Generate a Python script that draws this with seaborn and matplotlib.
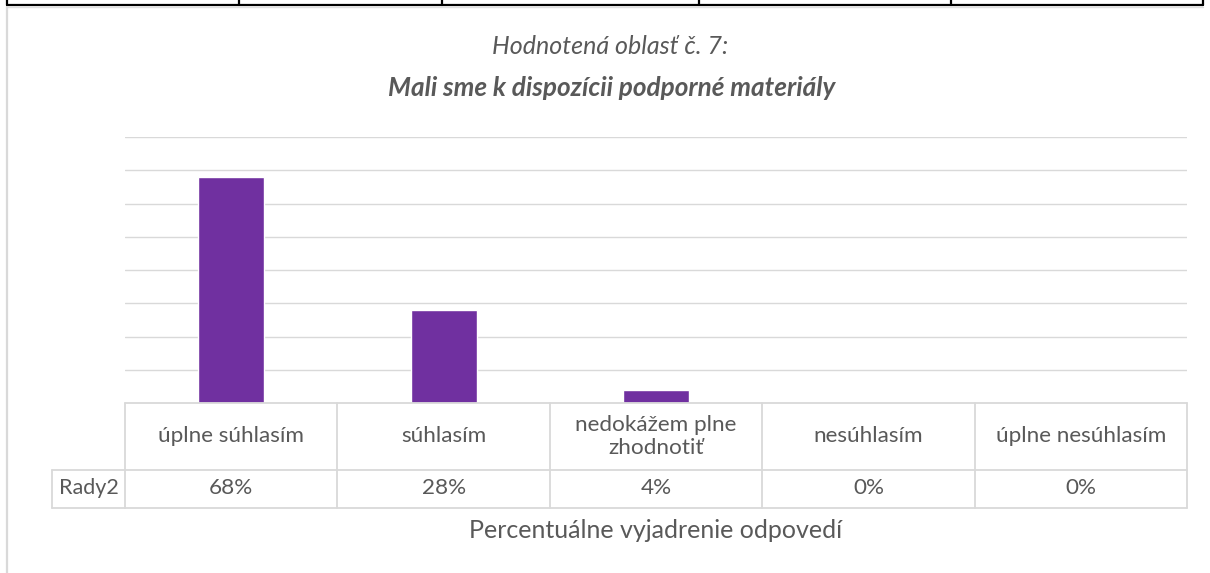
import matplotlib
matplotlib.use("Agg")
import matplotlib.pyplot as plt
import matplotlib.transforms as mtrans
from matplotlib.lines import Line2D
import seaborn as sns
import pandas as pd

# ---- data ----
categories = ["úplne súhlasím", "súhlasím", "nedokážem plne\nzhodnotiť", "nesúhlasím", "úplne nesúhlasím"]
values = [68, 28, 4, 0, 0]
series_name = "Rady2"
value_labels = ["68%", "28%", "4%", "0%", "0%"]
title_line1 = "Hodnotená oblasť č. 7:"
title_line2 = "Mali sme k dispozícii podporné materiály"
x_title = "Percentuálne vyjadrenie odpovedí"

W, H = 1210, 573
sns.set_style("white")
plt.rcParams['font.family'] = ['Lato', 'DejaVu Sans']
fig = plt.figure(figsize=(W / 100, H / 100), dpi=100)

TXT = "#595959"
GRID = "#d9d9d9"


def fx(px):
    return px / W


def fy(py):
    return 1 - py / H


plot_l, plot_r, plot_t, plot_b = 125, 1187, 137, 403
ax = fig.add_axes([fx(plot_l), fy(plot_b), (plot_r - plot_l) / W, (plot_b - plot_t) / H])
df = pd.DataFrame({"cat": categories, "val": values})
sns.barplot(data=df, x="cat", y="val", color="#7030A0", width=0.31, saturation=1, ax=ax)
ax.set_ylim(0, 80)
ax.set_xlim(-0.5, len(categories) - 0.5)
ax.set_yticks(range(10, 81, 10))
ax.yaxis.grid(True, color=GRID, lw=1.0)
ax.xaxis.grid(False)
ax.set_axisbelow(True)
ax.tick_params(left=False, bottom=False, labelleft=False, labelbottom=False)
for s in ax.spines.values():
    s.set_visible(False)
ax.set_xlabel("")
ax.set_ylabel("")

# ---- data table below the axis ----
bt = mtrans.blended_transform_factory(ax.transData, fig.transFigure)
row_top, row_mid, row_bot = 403, 469.5, 507.5
n = len(categories)
lw_t = 1.3
for ry in (row_top, row_mid, row_bot):
    ax.add_line(Line2D([-0.5, n - 0.5], [fy(ry)] * 2, transform=bt, color=GRID, lw=lw_t, clip_on=False))
for i in range(n + 1):
    ax.add_line(Line2D([i - 0.5, i - 0.5], [fy(row_top), fy(row_bot)], transform=bt,
                       color=GRID, lw=lw_t, clip_on=False))
# series-name cell
fig.add_artist(Line2D([fx(52), fx(plot_l)], [fy(row_mid)] * 2, color=GRID, lw=lw_t))
fig.add_artist(Line2D([fx(52), fx(plot_l)], [fy(row_bot)] * 2, color=GRID, lw=lw_t))
fig.add_artist(Line2D([fx(52), fx(52)], [fy(row_mid), fy(row_bot)], color=GRID, lw=lw_t))

fs_tab = 16.2
for i, (c, v) in enumerate(zip(categories, value_labels)):
    ax.text(i, fy((row_top + row_mid) / 2), c, transform=bt, ha="center", va="center",
            fontsize=fs_tab, color=TXT, linespacing=1.2)
    ax.text(i, fy((row_mid + row_bot) / 2), v, transform=bt, ha="center", va="center",
            fontsize=fs_tab, color=TXT)
fig.text(fx((52 + plot_l) / 2), fy((row_mid + row_bot) / 2), series_name, ha="center", va="center",
         fontsize=15.5, color=TXT)

# axis title
fig.text(fx((plot_l + plot_r) / 2), fy(530), x_title, ha="center", va="center", fontsize=18, color=TXT)

# chart titles
fig.text(fx(610), fy(46), title_line1, ha="center", va="center", fontsize=18, style="italic", color=TXT)
fig.text(fx(612), fy(88), title_line2, ha="center", va="center", fontsize=18.8, style="italic",
         weight="bold", color=TXT)

# ---- surrounding frame fragments ----
fig.add_artist(Line2D([fx(7), fx(1203)], [fy(5)] * 2, color="black", lw=1.6))
fig.add_artist(Line2D([fx(7), fx(1203)], [fy(7)] * 2, color="#e0e0e0", lw=1.0))
for px in [7, 239, 442, 699, 951, 1203]:
    fig.add_artist(Line2D([fx(px), fx(px)], [fy(0), fy(5)], color="black", lw=1.6))
fig.add_artist(Line2D([fx(7), fx(7)], [fy(7), fy(H)], color=GRID, lw=1.6))

fig.savefig("out.png", dpi=100)
